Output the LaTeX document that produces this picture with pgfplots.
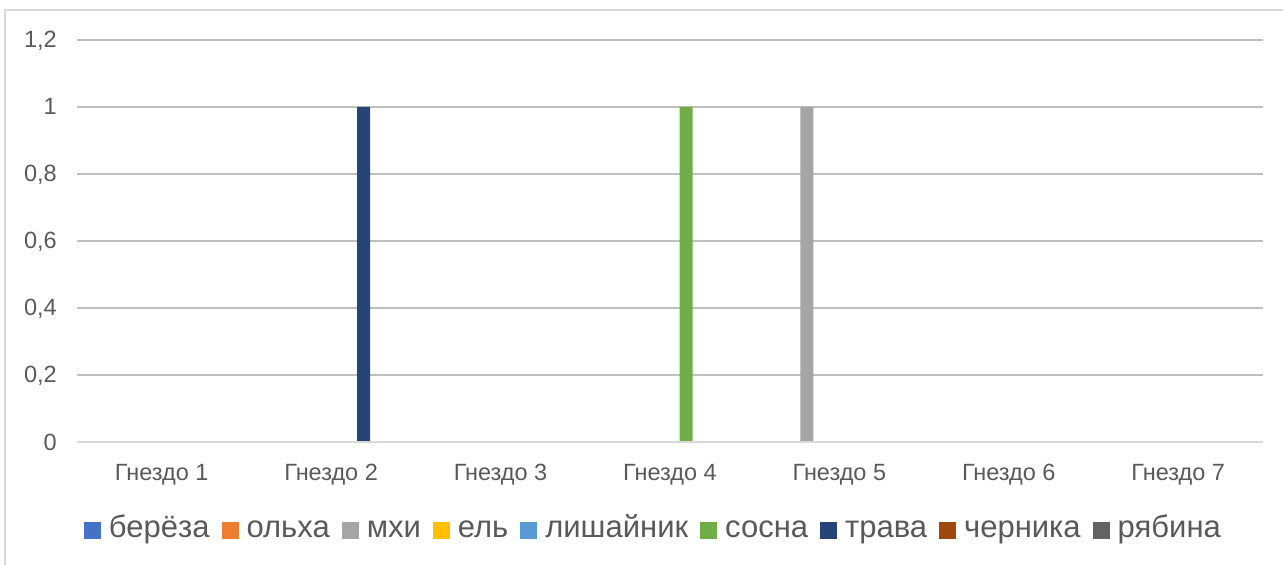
\documentclass[border=0pt]{standalone}
\usepackage{fontspec}
\setmainfont{Liberation Sans}
\usepackage{pgfplots}
\pgfplotsset{compat=1.18}
\definecolor{txt}{HTML}{595959}
\definecolor{grid}{HTML}{D9D9D9}
\definecolor{c1}{HTML}{4472C4}
\definecolor{c2}{HTML}{ED7D31}
\definecolor{c3}{HTML}{A5A5A5}
\definecolor{c4}{HTML}{FFC000}
\definecolor{c5}{HTML}{5B9BD5}
\definecolor{c6}{HTML}{70AD47}
\definecolor{c7}{HTML}{264478}
\definecolor{c8}{HTML}{9E480E}
\definecolor{c9}{HTML}{636363}
\begin{document}
\begin{tikzpicture}
\useasboundingbox (0pt,0pt) rectangle (1283pt,565pt);
\draw[grid, line width=1.5pt] (5pt,0pt) -- (5pt,555pt) -- (1283pt,555pt);
\begin{axis}[
  at={(77pt,123pt)}, anchor=south west,
  width=1186pt, height=402pt, scale only axis,
  xmin=-0.5, xmax=6.5, ymin=0, ymax=1.2,
  ytick={0,0.2,...,1.2},
  xtick={0,...,6},
  xticklabels={Гнездо 1,Гнездо 2,Гнездо 3,Гнездо 4,Гнездо 5,Гнездо 6,Гнездо 7},
  major tick length=0pt,
  axis x line*=bottom,
  axis y line*=left,
  x axis line style={grid, line width=2pt, -},
  y axis line style={draw=none, -},
  ymajorgrids, xmajorgrids=false,
  grid style={grid, line width=1.5pt},
  /pgf/number format/.cd, use comma, assume math mode=true, /pgfplots/.cd,
  tick label style={font=\fontsize{23.5}{27}\selectfont, text=txt, inner sep=0pt},
  yticklabel style={anchor=base east, xshift=-20pt, yshift=-8pt},
  xticklabel style={anchor=base, yshift=-38pt},
  ybar=3.2pt, bar width=13pt,
  every axis plot/.append style={draw=none},
  legend columns=9,
  legend style={draw=none, fill=none, at={(0.4852,-0.211)}, anchor=center,
    font=\fontsize{31}{36}\selectfont, text=txt, inner sep=0pt,
    nodes={inner sep=0pt, anchor=base west},
    /tikz/every odd column/.append style={column sep=8pt},
    /tikz/every even column/.append style={column sep=12pt}},
  legend image code/.code={\fill[#1] (0pt,-1pt) rectangle (17pt,16pt);},
]
\addplot[fill=c1] coordinates {(0,0) (1,0) (2,0) (3,0) (4,0) (5,0) (6,0)};
\addplot[fill=c2] coordinates {(0,0) (1,0) (2,0) (3,0) (4,0) (5,0) (6,0)};
\addplot[fill=c3] coordinates {(0,0) (1,0) (2,0) (3,0) (4,1) (5,0) (6,0)};
\addplot[fill=c4] coordinates {(0,0) (1,0) (2,0) (3,0) (4,0) (5,0) (6,0)};
\addplot[fill=c5] coordinates {(0,0) (1,0) (2,0) (3,0) (4,0) (5,0) (6,0)};
\addplot[fill=c6] coordinates {(0,0) (1,0) (2,0) (3,1) (4,0) (5,0) (6,0)};
\addplot[fill=c7] coordinates {(0,0) (1,1) (2,0) (3,0) (4,0) (5,0) (6,0)};
\addplot[fill=c8] coordinates {(0,0) (1,0) (2,0) (3,0) (4,0) (5,0) (6,0)};
\addplot[fill=c9] coordinates {(0,0) (1,0) (2,0) (3,0) (4,0) (5,0) (6,0)};
\legend{берёза,ольха,мхи,ель,лишайник,сосна,трава,черника,рябина}
\draw[grid, line width=2pt] (rel axis cs:0,0) -- (rel axis cs:1,0);
\end{axis}
\end{tikzpicture}
\end{document}
